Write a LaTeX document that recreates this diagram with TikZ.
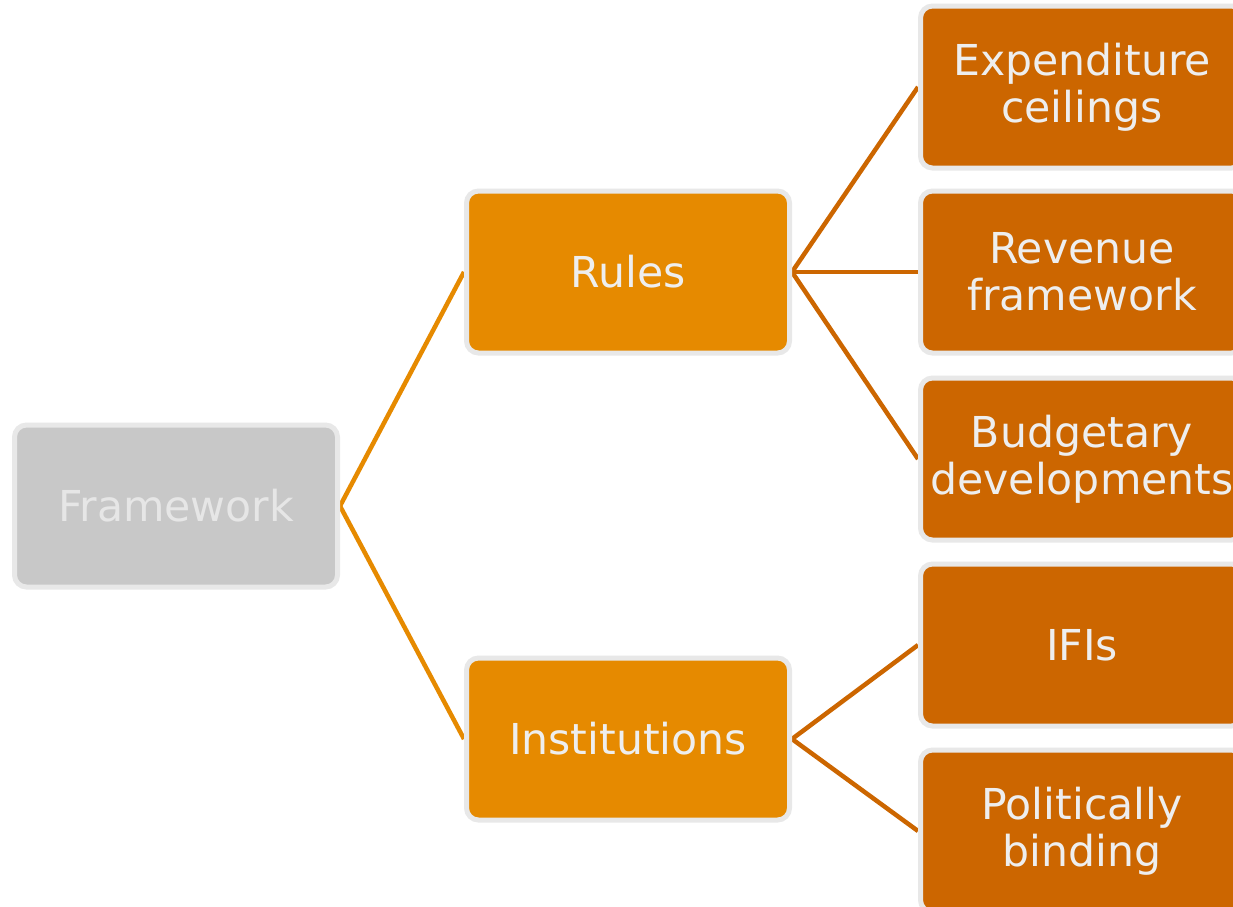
\documentclass[tikz,border=0pt]{standalone}
\usepackage{fontspec}
\setmainfont{DejaVu Sans}
\usetikzlibrary{backgrounds}
\definecolor{midorange}{HTML}{E68A00}
\definecolor{darkorange}{HTML}{CC6600}
\definecolor{boxgray}{HTML}{C8C8C8}
\definecolor{rimgray}{HTML}{E8E8E8}
\definecolor{txtlight}{HTML}{EEEEEE}
\definecolor{txtgray}{HTML}{E6E6E6}
\tikzset{
  basebox/.style={draw=rimgray, line width=5pt, rounded corners=12pt,
    minimum width=323pt, minimum height=162pt, inner sep=0pt,
    align=center, text=txtlight, font=\fontsize{42.6}{47}\selectfont},
  rootbox/.style={basebox, fill=boxgray, text=txtgray},
  midbox/.style={basebox, fill=midorange},
  leafbox/.style={basebox, fill=darkorange},
  midlink/.style={draw=midorange, line width=4.5pt},
  leaflink/.style={draw=darkorange, line width=4.5pt},
}
\begin{document}
\begin{tikzpicture}[x=1pt,y=-1pt]
\useasboundingbox (0,0) rectangle (1233,906);
\clip (0,0) rectangle (1233,906);
\node[rootbox] (fw) at (176,506) {Framework};
\node[midbox] (rules) at (628,272) {Rules};
\node[midbox] (inst) at (628,739) {Institutions};
\node[leafbox] (exp) at (1082,87) {Expenditure\\ceilings};
\node[leafbox] (rev) at (1082,272) {Revenue\\framework};
\node[leafbox] (bud) at (1082,459) {Budgetary\\developments};
\node[leafbox] (ifi) at (1082,645) {IFIs};
\node[leafbox] (pol) at (1082,831) {Politically\\binding};
\begin{scope}[on background layer]
\fill[white] (0,0) rectangle (1233,906);
\draw[midlink] (fw.east) -- (rules.west);
\draw[midlink] (fw.east) -- (inst.west);
\draw[leaflink] (rules.east) -- (exp.west);
\draw[leaflink] (rules.east) -- (rev.west);
\draw[leaflink] (rules.east) -- (bud.west);
\draw[leaflink] (inst.east) -- (ifi.west);
\draw[leaflink] (inst.east) -- (pol.west);
\end{scope}
\end{tikzpicture}
\end{document}
